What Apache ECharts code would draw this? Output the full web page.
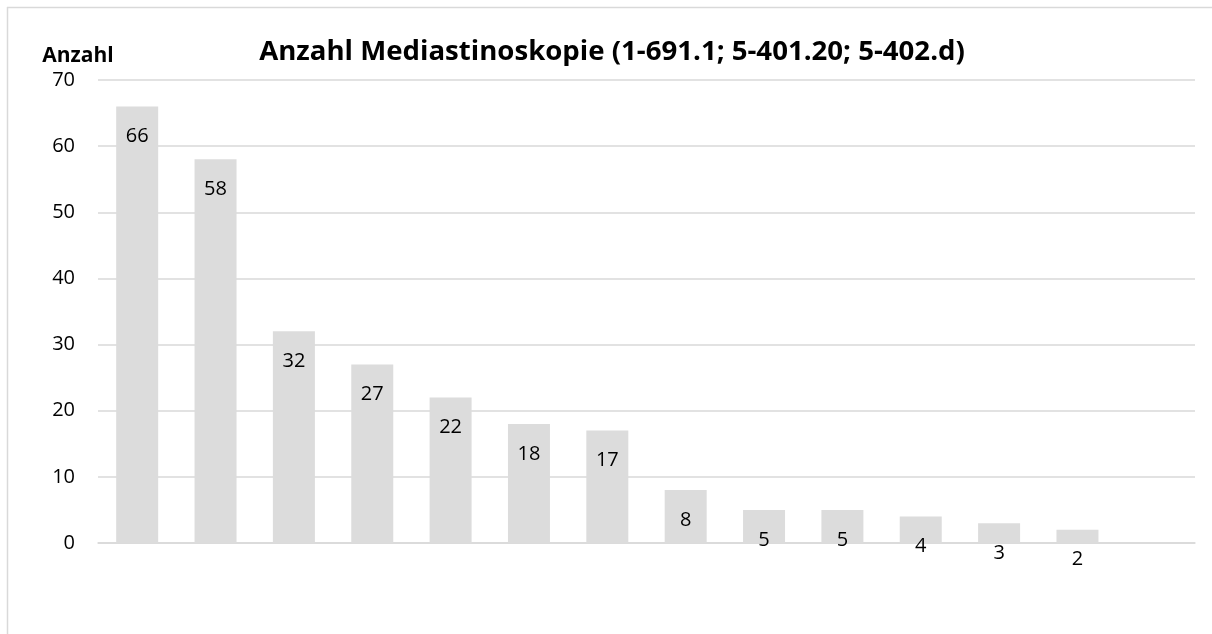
<!DOCTYPE html>
<html>
<head>
<meta charset="utf-8">
<script src="https://cdn.jsdelivr.net/npm/echarts@6/dist/echarts.min.js"></script>
<style>html,body{margin:0;padding:0;background:#fff;overflow:hidden;}#c{width:1212px;height:634px;}</style>
</head>
<body>
<div id="c"></div>
<script>
var categories = ['', '', '', '', '', '', '', '', '', '', '', '', '', ''];
var values = [66, 58, 32, 27, 22, 18, 17, 8, 5, 5, 4, 3, 2, null];
var yTicks = [0, 10, 20, 30, 40, 50, 60, 70];
var titleText = 'Anzahl Mediastinoskopie (1-691.1; 5-401.20; 5-402.d)';
var yName = 'Anzahl';

var FONT = 'Open Sans';
var chart = echarts.init(document.getElementById('c'), null, {renderer: 'canvas'});
chart.setOption({
  animation: false,
  backgroundColor: '#fff',
  title: {
    text: titleText, left: 607, top: 33, textAlign: 'center',
    textStyle: {fontFamily: FONT, fontWeight: 'bold', fontSize: 27.6, color: '#000'}
  },
  graphic: [
    {type: 'line', silent: true, shape: {x1: 7, y1: 7.5, x2: 1212, y2: 7.5}, style: {stroke: '#d9d9d9', lineWidth: 1.5}},
    {type: 'line', silent: true, shape: {x1: 7.5, y1: 7, x2: 7.5, y2: 634}, style: {stroke: '#d9d9d9', lineWidth: 1.5}}
  ],
  grid: {left: 98, right: 17, top: 80, bottom: 91},
  xAxis: {
    type: 'category', data: categories,
    axisLine: {show: true, lineStyle: {color: '#d9d9d9', width: 1.5}},
    axisTick: {show: false}, axisLabel: {show: false}
  },
  yAxis: {
    type: 'value', min: yTicks[0], max: yTicks[yTicks.length - 1], interval: 10,
    name: yName, nameLocation: 'end', nameGap: 13,
    nameTextStyle: {fontFamily: FONT, fontWeight: 'bold', fontSize: 21, color: '#000', align: 'center', padding: [0, 40, 0, 0]},
    axisLine: {show: false}, axisTick: {show: false},
    axisLabel: {fontFamily: FONT, fontSize: 20, color: '#000', margin: 23},
    splitLine: {lineStyle: {color: '#d9d9d9', width: 1.5}}
  },
  series: [{
    type: 'bar', data: values, barWidth: 42,
    itemStyle: {color: '#dcdcdc'},
    label: {show: true, position: 'insideTop', distance: 20, fontFamily: FONT, fontSize: 20, color: '#000'}
  }]
});
</script>
</body>
</html>
